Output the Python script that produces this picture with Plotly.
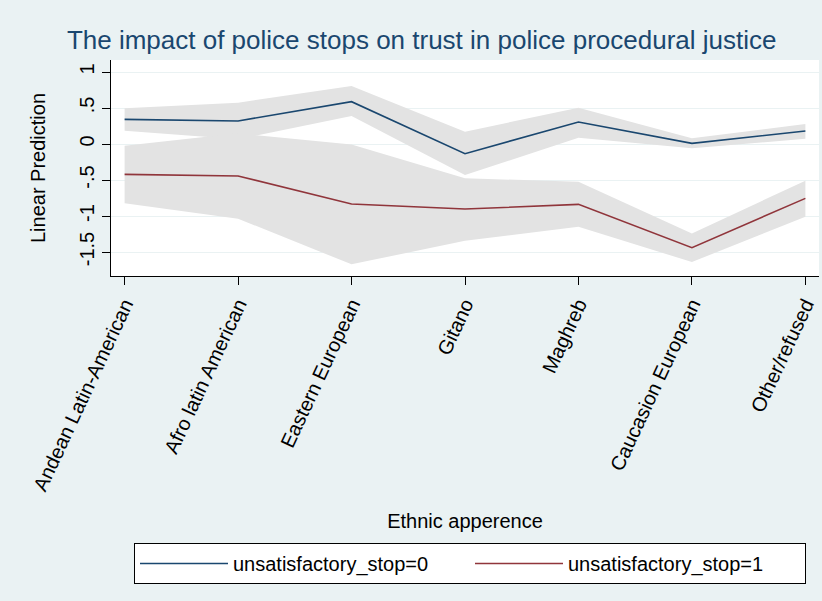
import plotly.graph_objects as go

categories = ["Andean Latin-American", "Afro latin American", "Eastern European",
              "Gitano", "Maghreb", "Caucasion European", "Other/refused"]

pred0 = [0.343, 0.32, 0.588, -0.134, 0.306, 0.009, 0.18]
upper0 = [0.496, 0.574, 0.806, 0.171, 0.505, 0.079, 0.278]
lower0 = [0.185, 0.066, 0.389, -0.431, 0.088, -0.06, 0.074]

pred1 = [-0.421, -0.444, -0.833, -0.903, -0.838, -1.44, -0.755]
upper1 = [-0.023, 0.148, -0.005, -0.477, -0.523, -1.241, -0.509]
lower1 = [-0.824, -1.037, -1.671, -1.343, -1.148, -1.639, -1.009]

ytick_vals = [1, 0.5, 0, -0.5, -1, -1.5]
ytick_text = ["1", ".5", "0", "-.5", "-1", "-1.5"]

x = list(range(len(categories)))
band = "#e3e3e3"
blue = "#1a476f"
red = "#90353b"
bg = "#eaf2f3"
FONT = "Liberation Sans, Arial, sans-serif"

fig = go.Figure()
for up, lo in [(upper0, lower0), (upper1, lower1)]:
    fig.add_trace(go.Scatter(x=x + x[::-1], y=up + lo[::-1], fill="toself",
                             fillcolor=band, line=dict(width=0), mode="lines",
                             showlegend=False, hoverinfo="skip"))
fig.add_trace(go.Scatter(x=x, y=pred0, mode="lines", line=dict(color=blue, width=1.6),
                         name="unsatisfactory_stop=0"))
fig.add_trace(go.Scatter(x=x, y=pred1, mode="lines", line=dict(color=red, width=1.6),
                         name="unsatisfactory_stop=1"))

fig.update_layout(
    width=822, height=601,
    paper_bgcolor=bg, plot_bgcolor="white",
    margin=dict(l=111, r=3, t=60, b=325),
    font=dict(family=FONT, size=20, color="black"),
    title=dict(text="The impact of police stops on trust in police procedural justice",
               x=0.513, xanchor="center", y=0.934, yanchor="middle",
               font=dict(size=26, color=blue, family=FONT)),
    showlegend=True,
    legend=dict(orientation="h", xref="container", x=134 / 822, xanchor="left",
                yref="container", y=1 - 543 / 601, yanchor="top",
                bgcolor="white", bordercolor="black", borderwidth=1,
                itemwidth=88,
                entrywidth=232, entrywidthmode="pixels",
                font=dict(size=20, family=FONT)),
)
fig.update_xaxes(
    range=[-0.12, 6.12], tickmode="array", tickvals=x, ticktext=categories,
    tickangle=-65, ticks="outside", ticklen=8, tickcolor="black",
    showline=True, linecolor="black", linewidth=1, showgrid=False, zeroline=False,
    automargin=False,
    title=dict(text="Ethnic apperence", standoff=20, font=dict(size=20)),
)
fig.update_yaxes(
    range=[-1.833, 1.167], tickmode="array", tickvals=ytick_vals, ticktext=ytick_text,
    tickangle=-90, ticks="outside", ticklen=8, tickcolor="black",
    showline=True, linecolor="black", linewidth=1,
    showgrid=True, gridcolor=bg, gridwidth=1, zeroline=False,
    automargin=False,
    title=dict(text="Linear Prediction", standoff=25, font=dict(size=20)),
)

fig.write_html("out.html", config={"displayModeBar": False},
               post_script="document.body.style.margin='0';document.body.style.overflow='hidden';")
